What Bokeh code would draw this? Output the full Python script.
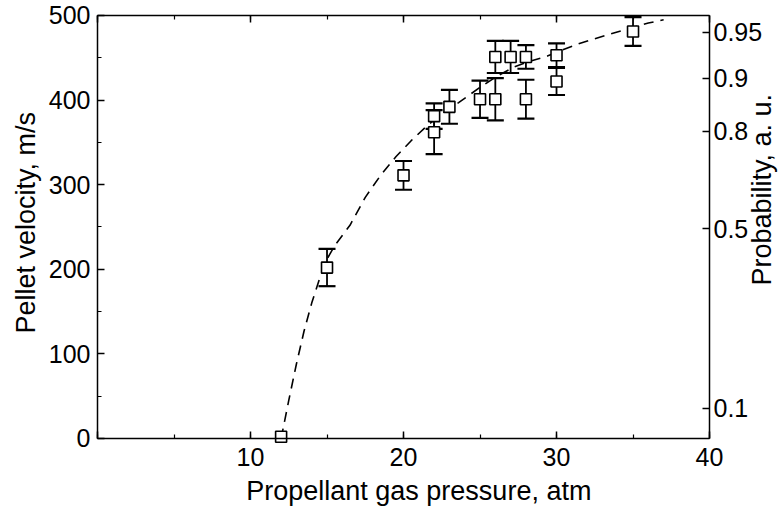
import math
from bokeh.plotting import figure
from bokeh.models import (LinearAxis, FixedTicker, SingleIntervalTicker, Whisker,
                          TeeHead, ColumnDataSource, Range1d, Label)
from bokeh.embed import file_html
from bokeh.resources import INLINE

# ---- data ----
pressure = [12, 15, 20, 22, 22, 23, 25, 26, 26, 27, 28, 28, 30, 30, 35]
velocity = [2, 202, 311, 381, 362, 392, 401, 401, 451, 451, 451, 401, 453, 422, 481]
error = [0, 22, 17, 15, 26, 20, 22, 25, 19, 19, 14, 23, 14, 16, 17]

fit_pressure = [12.0, 12.5, 13.0, 13.5, 14.0, 14.5, 15.0, 15.5, 16.5, 17.5, 18.5,
                19.5, 20.5, 21.5, 22.5, 23.6, 25.0, 26.0, 27.2, 28.1, 29.4, 30.5,
                31.5, 33.3, 35.0, 36.0, 37.0]
fit_velocity = [0, 45, 88, 127, 160, 188, 212, 228, 252, 285, 311,
                333, 352, 369, 384, 397, 415, 427, 439, 445, 452, 460,
                467, 477, 486, 491, 495]

prob_labels = ["0.1", "0.5", "0.8", "0.9", "0.95"]
prob_velocity_pos = [36, 248, 363, 426, 480]

x_tick_labels = {0: ""}

x_title = "Propellant gas pressure, atm"
y_title = "Pellet velocity, m/s"
y2_title = "Probability, a. u."

# data box and the visible window around it (room for tick labels and titles)
X_MIN, X_MAX = 0, 40
Y_MIN, Y_MAX = 0, 500
X_VIEW = (-6.34, 44.9)
Y_VIEW = (-81.6, 517.7)

# title anchor positions (data units of the window)
X_TITLE_POS = (21.0, -62.5)
Y_TITLE_POS = (-4.68, 255)
Y2_TITLE_POS = (43.42, 294)

FONT = "Liberation Sans"

p = figure(width=784, height=507, output_backend="svg", toolbar_location=None,
           x_range=Range1d(*X_VIEW), y_range=Range1d(*Y_VIEW),
           min_border_left=0, min_border_right=0, min_border_top=0,
           min_border_bottom=0)
p.grid.visible = False
p.outline_line_color = None
p.background_fill_color = "white"
p.border_fill_color = "white"


def style_axis(ax, label_size="25px"):
    ax.axis_line_color = "black"
    ax.axis_line_width = 1.5
    ax.major_tick_in = 7
    ax.major_tick_out = 0
    ax.minor_tick_in = 4
    ax.minor_tick_out = 0
    ax.major_tick_line_width = 1.5
    ax.minor_tick_line_width = 1.2
    ax.major_label_text_font = FONT
    ax.major_label_text_font_size = label_size
    ax.major_label_text_color = "black"


# bottom axis
xa = p.xaxis[0]
xa.ticker = SingleIntervalTicker(interval=10, num_minor_ticks=2)
xa.bounds = (X_MIN, X_MAX)
xa.fixed_location = Y_MIN
style_axis(xa)
xa.major_label_overrides = x_tick_labels
xa.major_label_standoff = 10

# left axis
ya = p.yaxis[0]
ya.ticker = SingleIntervalTicker(interval=100, num_minor_ticks=2)
ya.bounds = (Y_MIN, Y_MAX)
ya.fixed_location = X_MIN
style_axis(ya)
ya.major_label_standoff = 7

# top axis (ticks only, no visible labels)
ta = LinearAxis(ticker=SingleIntervalTicker(interval=10, num_minor_ticks=2),
                bounds=(X_MIN, X_MAX), fixed_location=Y_MAX)
style_axis(ta, label_size="1px")
ta.major_label_text_color = None
ta.major_label_standoff = 0
p.add_layout(ta, "above")

# right axis: probability scale
ra = LinearAxis(ticker=FixedTicker(ticks=prob_velocity_pos, minor_ticks=[]),
                bounds=(Y_MIN, Y_MAX), fixed_location=X_MAX)
style_axis(ra)
ra.major_label_overrides = {v: s for v, s in zip(prob_velocity_pos, prob_labels)}
ra.major_label_standoff = 4
p.add_layout(ra, "right")


def title(text, pos, angle):
    p.add_layout(Label(x=pos[0], y=pos[1], text=text, angle=angle,
                       text_align="center", text_baseline="alphabetic",
                       text_font=FONT, text_font_size="27px", text_color="black"))


title(x_title, X_TITLE_POS, 0)
title(y_title, Y_TITLE_POS, math.pi / 2)
title(y2_title, Y2_TITLE_POS, math.pi / 2)

# dashed fit curve
p.line(fit_pressure, fit_velocity, line_color="black", line_width=1.6,
       line_dash="10 7")

# error bars
eb_x = [x for x, e in zip(pressure, error) if e > 0]
eb_up = [v + e for v, e in zip(velocity, error) if e > 0]
eb_lo = [v - e for v, e in zip(velocity, error) if e > 0]
src_err = ColumnDataSource(dict(x=eb_x, upper=eb_up, lower=eb_lo))
wh = Whisker(source=src_err, base="x", upper="upper", lower="lower",
             line_color="black", line_width=1.8, level="underlay",
             upper_head=TeeHead(size=17, line_width=2.2, line_color="black"),
             lower_head=TeeHead(size=17, line_width=2.2, line_color="black"))
p.add_layout(wh)

# data squares
p.scatter(pressure, velocity, marker="square", size=11, fill_color="white",
          line_color="black", line_width=1.6)

open("out.html", "w").write(file_html(p, INLINE))
